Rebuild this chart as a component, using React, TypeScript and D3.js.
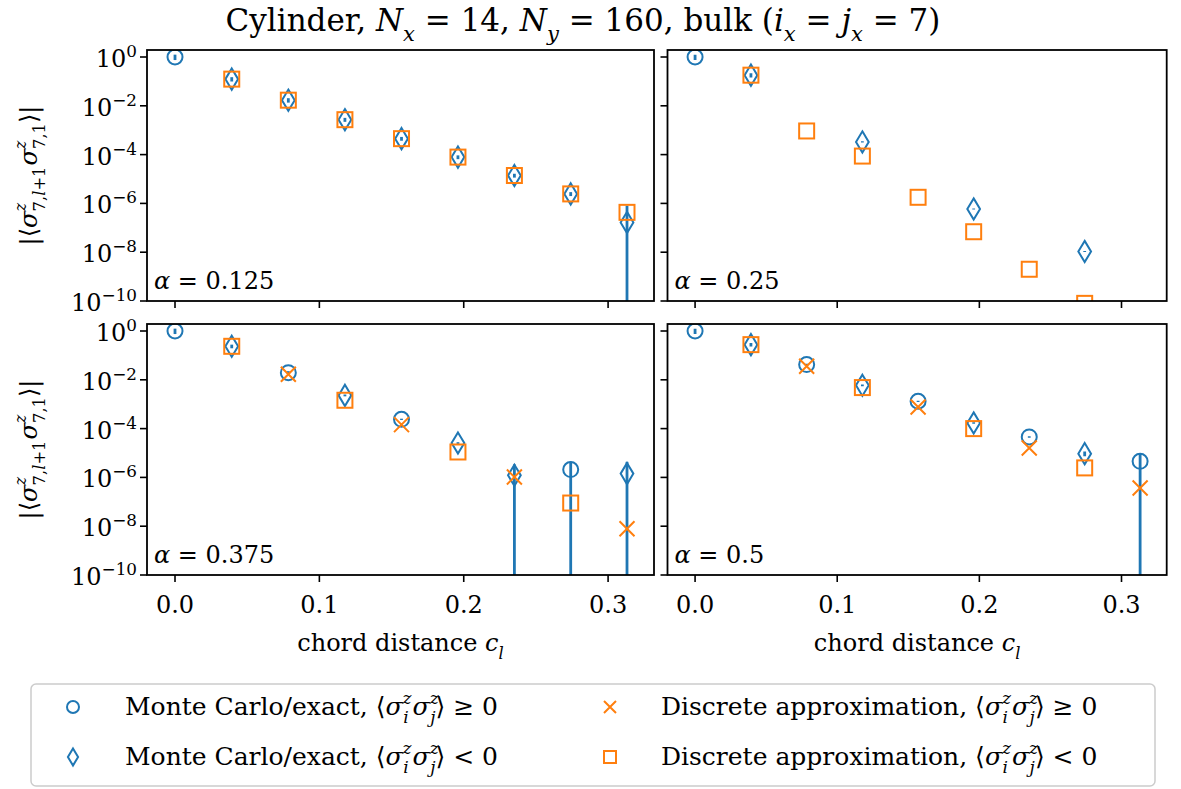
import React from 'react';
import * as d3 from 'd3';

// ---------- data ----------
const chordDistance = [0, 0.0393, 0.0785, 0.1177, 0.1569, 0.196, 0.2351, 0.2741, 0.3131];
const alphaLabels = ['0.125', '0.25', '0.375', '0.5'];

// Monte Carlo / exact (signed), its error, and discrete approximation (signed); null = not shown
const mc0125 = [1, -0.124, -0.017, -2.7e-3, -4.5e-4, -7.9e-5, -1.39e-5, -2.45e-6, -1.66e-7];
const mcErr0125 = [0.25, 0.025, 0.0035, 5e-4, 8e-5, 1.4e-5, 2.5e-6, 4.5e-7, 6.4e-7];
const disc0125 = [null, -0.124, -0.017, -2.7e-3, -4.5e-4, -7.9e-5, -1.39e-5, -2.45e-6, -4.3e-7];

const mc025 = [1, -0.18, null, -3.3e-4, null, -5.9e-7, null, -1.07e-8, null];
const mcErr025 = [0.25, 0.035, 0, 2e-5, 0, 3e-8, 0, 5e-10, 0];
const disc025 = [null, -0.18, -9.3e-4, -8.7e-5, -1.78e-6, -6.9e-8, -2.0e-9, -8e-11, null];

const mc0375 = [1, -0.236, 0.0196, -2.3e-3, 2.4e-4, -2.57e-5, -1.22e-6, 2.09e-6, -1.43e-6];
const mcErr0375 = [0.25, 0.04, 0.003, 2e-4, 1.5e-5, 2e-6, 2.2e-6, 2.3e-6, 2.9e-6];
const disc0375 = [null, -0.236, 0.0168, -1.45e-3, 1.45e-4, -1.1e-5, 1.04e-6, -8.9e-8, 7.9e-9];

const mc05 = [1, -0.276, 0.042, -5.96e-3, 1.32e-3, -1.7e-4, 4.55e-5, -9.4e-6, 4.55e-6];
const mcErr05 = [0.25, 0.045, 0.004, 5e-4, 8e-5, 1.2e-5, 3e-6, 2e-6, 4.8e-6];
const disc05 = [null, -0.276, 0.0357, -4.8e-3, 7.7e-4, -1.0e-4, 1.6e-5, -2.45e-6, 3.7e-7];

const xTickValues = [0, 0.1, 0.2, 0.3];
const xTickLabels = ['0.0', '0.1', '0.2', '0.3'];
const yTickExponents = [0, -2, -4, -6, -8, -10];

// ---------- styling ----------
const BLUE = '#1f77b4';
const ORANGE = '#ff7f0e';
const FONT = '"DejaVu Serif", serif';
const FS = 24;
const LFS = 25;

type Seg = { t: string; it?: boolean; pos?: 'b' | 'sup' | 'sub'; dx?: number };

function mathSpans(segs: Seg[], fs: number) {
  let cur = 0;
  return segs.map((s, i) => {
    const target = s.pos === 'sup' ? -0.44 * fs : s.pos === 'sub' ? 0.32 * fs : 0;
    const dy = target - cur;
    cur = target;
    const small = s.pos === 'sup' || s.pos === 'sub';
    return (
      <tspan key={i} dy={dy} dx={s.dx || 0} fontStyle={s.it ? 'italic' : 'normal'} fontSize={small ? fs * 0.68 : fs}>
        {s.t}
      </tspan>
    );
  });
}

const ZBACK = -8.4;
const yLabelSegs: Seg[] = [
  { t: '|⟨' },
  { t: 'σ', it: true },
  { t: 'z', it: true, pos: 'sup' },
  { t: '7,', pos: 'sub', dx: ZBACK },
  { t: 'l', it: true, pos: 'sub' },
  { t: '+1', pos: 'sub' },
  { t: 'σ', it: true, dx: 1 },
  { t: 'z', it: true, pos: 'sup' },
  { t: '7,1', pos: 'sub', dx: ZBACK },
  { t: '⟩|' },
];

const titleSegs: Seg[] = [
  { t: 'Cylinder, ' },
  { t: 'N', it: true },
  { t: 'x', it: true, pos: 'sub' },
  { t: ' = 14, ' },
  { t: 'N', it: true },
  { t: 'y', it: true, pos: 'sub' },
  { t: ' = 160, bulk (' },
  { t: 'i', it: true },
  { t: 'x', it: true, pos: 'sub' },
  { t: ' = ' },
  { t: 'j', it: true },
  { t: 'x', it: true, pos: 'sub' },
  { t: ' = 7)' },
];

const xLabelSegs: Seg[] = [
  { t: 'chord distance ' },
  { t: 'c', it: true },
  { t: 'l', it: true, pos: 'sub' },
];

function corrSegs(prefix: string, rel: string): Seg[] {
  return [
    { t: prefix + ' ⟨' },
    { t: 'σ', it: true },
    { t: 'z', it: true, pos: 'sup' },
    { t: 'i', it: true, pos: 'sub', dx: ZBACK },
    { t: 'σ', it: true, dx: 4 },
    { t: 'z', it: true, pos: 'sup' },
    { t: 'j', it: true, pos: 'sub', dx: ZBACK },
    { t: '⟩ ' + rel },
  ];
}

// ---------- markers ----------
function Marker({ kind, x, y, s = 1 }: { kind: string; x: number; y: number; s?: number }) {
  const m = 15 * s;
  const common = { fill: 'none', strokeWidth: 2, strokeLinejoin: 'miter' as const };
  if (kind === 'circle') return <circle cx={x} cy={y} r={m / 2} stroke={BLUE} {...common} />;
  if (kind === 'diamond') {
    const h = (m * Math.SQRT2) / 2;
    const w = 0.6 * h;
    return <path d={`M${x},${y - h}L${x + w},${y}L${x},${y + h}L${x - w},${y}Z`} stroke={BLUE} {...common} />;
  }
  if (kind === 'square') return <rect x={x - m / 2} y={y - m / 2} width={m} height={m} stroke={ORANGE} {...common} />;
  const a = m / 2;
  return <path d={`M${x - a},${y - a}L${x + a},${y + a}M${x - a},${y + a}L${x + a},${y - a}`} stroke={ORANGE} {...common} />;
}

type PanelDef = {
  id: string;
  alpha: string;
  mc: (number | null)[];
  err: number[];
  disc: (number | null)[];
  x0: number; x1: number; y0: number; y1: number;
  xl: boolean; yl: boolean;
};

const panels: PanelDef[] = [
  { id: 'p0', alpha: alphaLabels[0], mc: mc0125, err: mcErr0125, disc: disc0125, x0: 147, x1: 654, y0: 50, y1: 301, xl: false, yl: true },
  { id: 'p1', alpha: alphaLabels[1], mc: mc025, err: mcErr025, disc: disc025, x0: 667.5, x1: 1166.7, y0: 50, y1: 301, xl: false, yl: false },
  { id: 'p2', alpha: alphaLabels[2], mc: mc0375, err: mcErr0375, disc: disc0375, x0: 147, x1: 654, y0: 324, y1: 575, xl: true, yl: true },
  { id: 'p3', alpha: alphaLabels[3], mc: mc05, err: mcErr05, disc: disc05, x0: 667.5, x1: 1166.7, y0: 324, y1: 575, xl: true, yl: false },
];

function Panel({ p }: { p: PanelDef }) {
  const xs = d3.scaleLinear().domain([-0.0194, 0.3318]).range([p.x0, p.x1]);
  const ys = d3.scaleLog().domain([1e-10, Math.pow(10, 0.287)]).range([p.y1, p.y0]);
  const TL = 7;
  return (
    <g>
      <defs>
        <clipPath id={`clip-${p.id}`}>
          <rect x={p.x0} y={p.y0} width={p.x1 - p.x0} height={p.y1 - p.y0} />
        </clipPath>
      </defs>
      <g clipPath={`url(#clip-${p.id})`}>
        {p.mc.map((v, i) => {
          if (v === null || !p.err[i]) return null;
          const a = Math.abs(v);
          const hi = a + p.err[i];
          const lo = a - p.err[i];
          const yLo = lo > 0 ? ys(lo) : p.y1 + 10;
          return <line key={`e${i}`} x1={xs(chordDistance[i])} x2={xs(chordDistance[i])} y1={ys(hi)} y2={yLo} stroke={BLUE} strokeWidth={2.8} />;
        })}
        {p.mc.map((v, i) =>
          v === null ? null : (
            <Marker key={`m${i}`} kind={v >= 0 ? 'circle' : 'diamond'} x={xs(chordDistance[i])} y={ys(Math.abs(v))} />
          )
        )}
        {p.disc.map((v, i) =>
          v === null ? null : (
            <Marker key={`d${i}`} kind={v >= 0 ? 'x' : 'square'} x={xs(chordDistance[i])} y={ys(Math.abs(v))} />
          )
        )}
      </g>
      <rect x={p.x0} y={p.y0} width={p.x1 - p.x0} height={p.y1 - p.y0} fill="none" stroke="#000" strokeWidth={1.8} />
      {xTickValues.map((t, i) => (
        <g key={`xt${i}`}>
          <line x1={xs(t)} x2={xs(t)} y1={p.y1} y2={p.y1 + TL} stroke="#000" strokeWidth={1.6} />
          {p.xl && (
            <text x={xs(t)} y={p.y1 + 38} textAnchor="middle" fontFamily={FONT} fontSize={FS}>
              {xTickLabels[i]}
            </text>
          )}
        </g>
      ))}
      {yTickExponents.map((e) => {
        const y = ys(Math.pow(10, e));
        return (
          <g key={`yt${e}`}>
            <line x1={p.x0 - TL} x2={p.x0} y1={y} y2={y} stroke="#000" strokeWidth={1.6} />
            {p.yl && (
              <text x={p.x0 - 10} y={y + 10} textAnchor="end" fontFamily={FONT} fontSize={FS}>
                <tspan>10</tspan>
                <tspan dy={-10} fontSize={FS * 0.7}>{e === 0 ? '0' : '−' + Math.abs(e)}</tspan>
              </text>
            )}
          </g>
        );
      })}
      <text x={p.x0 + 7} y={p.y1 - 12} fontFamily={FONT} fontSize={FS}>
        {mathSpans([{ t: 'α', it: true }, { t: ' = ' + p.alpha }], FS)}
      </text>
      {p.yl && (
        <text transform={`translate(37,${(p.y0 + p.y1) / 2}) rotate(-90)`} textAnchor="middle" fontFamily={FONT} fontSize={FS}>
          {mathSpans(yLabelSegs, FS)}
        </text>
      )}
      {p.xl && (
        <text x={(p.x0 + p.x1) / 2} y={651} textAnchor="middle" fontFamily={FONT} fontSize={FS}>
          {mathSpans(xLabelSegs, FS)}
        </text>
      )}
    </g>
  );
}

export default function App() {
  const legendRows = [
    { kind: 'circle', x: 73, tx: 125, y: 707, segs: corrSegs('Monte Carlo/exact,', '≥ 0') },
    { kind: 'diamond', x: 73, tx: 125, y: 757, segs: corrSegs('Monte Carlo/exact,', '< 0') },
    { kind: 'x', x: 610, tx: 661, y: 707, segs: corrSegs('Discrete approximation,', '≥ 0') },
    { kind: 'square', x: 610, tx: 661, y: 757, segs: corrSegs('Discrete approximation,', '< 0') },
  ];
  return (
    <svg width={1181} height={789} style={{ position: 'absolute', left: 0, top: 0, background: '#fff' }}>
      <rect width={1181} height={789} fill="#fff" />
      <text x={583} y={31} textAnchor="middle" fontFamily={FONT} fontSize={31}>
        {mathSpans(titleSegs, 31)}
      </text>
      {panels.map((p) => (
        <Panel key={p.id} p={p} />
      ))}
      <rect x={31} y={684} width={1124} height={102} rx={5} fill="#fff" stroke="#cccccc" strokeWidth={1.5} />
      {legendRows.map((r, i) => (
        <g key={i}>
          <Marker kind={r.kind} x={r.x} y={r.y} s={0.8} />
          <text x={r.tx} y={r.y + 8} fontFamily={FONT} fontSize={LFS}>
            {mathSpans(r.segs, LFS)}
          </text>
        </g>
      ))}
    </svg>
  );
}
